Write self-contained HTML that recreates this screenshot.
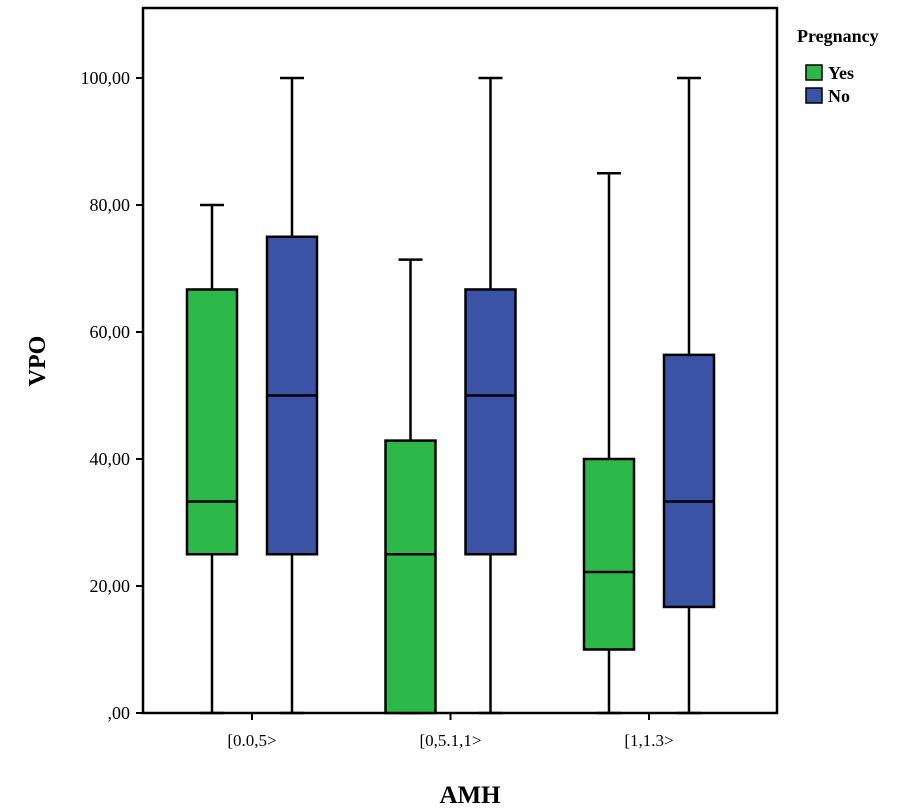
<!DOCTYPE html>
<html><head><meta charset="utf-8"><style>
body{margin:0;background:#fff;width:919px;height:809px;overflow:hidden}
svg{display:block;font-family:"Liberation Serif",serif}
</style></head><body>
<svg id="chart" width="919" height="809">
<rect x="143" y="8" width="634" height="705" fill="none" stroke="#000" stroke-width="2.5"/>
<g id="yticks"></g><g id="xticks"></g><g id="boxes"></g>
<text x="45" y="361" font-size="24" font-weight="bold" text-anchor="middle" transform="rotate(-90 45 361)">VPO</text>
<text x="470" y="803" font-size="25" font-weight="bold" text-anchor="middle">AMH</text>
<g>
<text x="797" y="42" font-size="18" font-weight="bold">Pregnancy</text>
<rect x="806" y="65" width="16" height="15" fill="#2db84a" stroke="#000" stroke-width="1.5"/>
<text x="828" y="79" font-size="18" font-weight="bold">Yes</text>
<rect x="806" y="88" width="16" height="15" fill="#3a53a4" stroke="#000" stroke-width="1.5"/>
<text x="828" y="102" font-size="18" font-weight="bold">No</text>
</g>
</svg>
<script>
const categories=["[0.0,5>","[0,5.1,1>","[1,1.3>"];
const yesMin=[0,0,0], yesQ1=[25,0,10], yesMed=[33.3,25,22.2], yesQ3=[66.7,42.9,40], yesMax=[80,71.4,85];
const noMin=[0,0,0], noQ1=[25,25,16.7], noMed=[50,50,33.3], noQ3=[75,66.7,56.4], noMax=[100,100,100];
const yTicks=[0,20,40,60,80,100];
const yLabels=[",00","20,00","40,00","60,00","80,00","100,00"];
const NS="http://www.w3.org/2000/svg";
const y=v=>713-v*6.35;
const x=i=>252+i*198.5;
function mk(tag,attrs,parent){const e=document.createElementNS(NS,tag);for(const k in attrs)e.setAttribute(k,attrs[k]);parent.appendChild(e);return e;}
const yt=document.getElementById('yticks');
yTicks.forEach((v,i)=>{
 const l=mk('line',{x1:136,x2:143,y1:y(v),y2:y(v),stroke:'#000','stroke-width':2},yt);
 
 
 const t=mk('text',{x:130,y:y(v)+6,'font-size':18,'text-anchor':'end'},yt);t.textContent=yLabels[i];
 
 
});
const xt=document.getElementById('xticks');
categories.forEach((c,i)=>{
 const l=mk('line',{x1:x(i),x2:x(i),y1:713,y2:720,stroke:'#000','stroke-width':2},xt);
 
 
 const t=mk('text',{x:x(i),y:746,'font-size':17,'text-anchor':'middle'},xt);t.textContent=c;
 
 
});
const bx=document.getElementById('boxes');
function box(cx,mn,q1,md,q3,mx,col,name){
 const g=mk('g',{},bx);
 
 
 const s={stroke:'#000','stroke-width':2.5};
 mk('line',Object.assign({x1:cx,x2:cx,y1:y(mx),y2:y(q3)},s),g);
 mk('line',Object.assign({x1:cx,x2:cx,y1:y(q1),y2:y(mn)},s),g);
 mk('line',Object.assign({x1:cx-12,x2:cx+12,y1:y(mx),y2:y(mx)},s),g);
 mk('line',Object.assign({x1:cx-12,x2:cx+12,y1:y(mn),y2:y(mn)},s),g);
 mk('rect',Object.assign({x:cx-25,y:y(q3),width:50,height:y(q1)-y(q3),fill:col},s),g);
 mk('line',Object.assign({x1:cx-25,x2:cx+25,y1:y(md),y2:y(md)},s),g);
}
categories.forEach((c,i)=>{
 box(x(i)-40,yesMin[i],yesQ1[i],yesMed[i],yesQ3[i],yesMax[i],'#2db84a','box-yes-'+i);
 box(x(i)+40,noMin[i],noQ1[i],noMed[i],noQ3[i],noMax[i],'#3a53a4','box-no-'+i);
});
</script>
</body></html>
